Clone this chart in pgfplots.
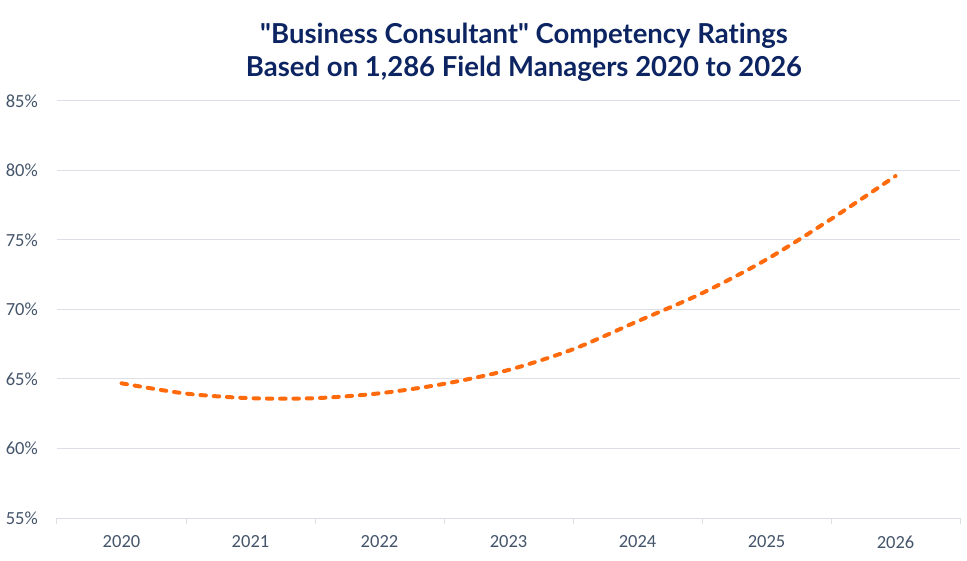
\documentclass[border=0pt]{standalone}
\usepackage{pgfplots}
\pgfplotsset{compat=1.18}
\usepackage{fontspec}
\setmainfont{Carlito}
\newfontfamily\titlefont[Ligatures=NoCommon]{Lato}
\definecolor{titlecol}{HTML}{0C2461}
\definecolor{tickcol}{HTML}{44546A}
\definecolor{gridcol}{HTML}{DEDFE6}
\definecolor{linecol}{HTML}{FF6A0D}
\begin{document}
\begin{tikzpicture}[x=1pt,y=1pt]
\useasboundingbox (0,0) rectangle (967,560);
\node[anchor=base,font=\titlefont\fontsize{27.5}{34}\selectfont\bfseries,text=titlecol,inner sep=0pt] at (524,516.5) {\textquotedbl Business Consultant\textquotedbl{} Competency Ratings};
\node[anchor=base,font=\titlefont\fontsize{27.5}{34}\selectfont\bfseries,text=titlecol,inner sep=0pt] at (524,483) {Based on 1,286 Field Managers 2020 to 2026};
\begin{axis}[
  at={(57pt,42pt)}, anchor=south west,
  scale only axis, width=903pt, height=417pt,
  xmin=2019.5, xmax=2026.5, ymin=55, ymax=85,
  xtick={2020,2021,2022,2023,2024,2025,2026},
  xticklabels={2020,2021,2022,2023,2024,2025,2026},
  minor xtick={2019.5,2020.5,2021.5,2022.5,2023.5,2024.5,2025.5,2026.5},
  ytick={55,60,65,70,75,80,85},
  yticklabels={55\%,60\%,65\%,70\%,75\%,80\%,85\%},
  tick align=outside, major tick length=0pt, minor tick length=6pt,
  xtick pos=bottom, ytick pos=left,
  ytick style={draw=none}, xtick style={draw=gridcol, line width=1pt},
  minor x tick style={draw=gridcol, line width=1pt},
  ymajorgrids, grid style={gridcol, line width=1pt},
  axis line style={draw=none},
  tick label style={font=\fontsize{18.5}{20}\selectfont, text=tickcol},
  yticklabel style={anchor=east, inner sep=0pt, xshift=-19pt},
  xticklabel style={anchor=north, inner sep=0pt, yshift=-17.5pt},
  clip=false,
]
\addplot[linecol, line width=4pt, line cap=round, dash pattern=on 5.5pt off 7.8pt, smooth, tension=0.5] coordinates {
 (2020,64.69) (2020.5,63.95) (2021,63.62) (2021.5,63.62) (2022,63.97) (2022.5,64.65)
 (2023,65.65) (2023.5,67.14) (2024,69.15) (2024.5,71.17) (2025,73.6) (2025.5,76.5) (2026,79.6)
};
\end{axis}
\end{tikzpicture}
\end{document}
